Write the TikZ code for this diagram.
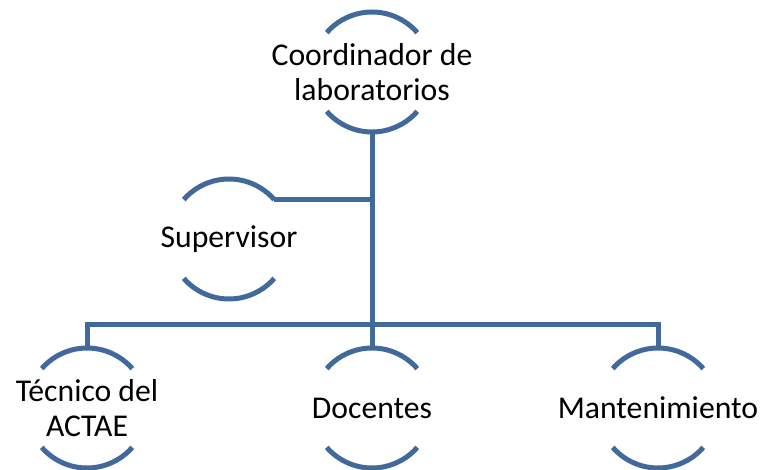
\documentclass[tikz,border=0pt]{standalone}
\usepackage{fontspec}
\setmainfont{Carlito}
\usetikzlibrary{positioning}
\definecolor{orgblue}{RGB}{65,105,155}
\tikzstyle{ring} = [draw=orgblue, line width=5pt]
\tikzstyle{unit} = [circle, minimum size=120pt, inner sep=0pt, outer sep=0pt,
    append after command={\pgfextra{\let\unitnode\tikzlastnode
      \draw[ring] (\unitnode.41) arc[start angle=41, end angle=139, radius=60pt];
      \draw[ring] (\unitnode.221) arc[start angle=221, end angle=319, radius=60pt];}}]
\tikzstyle{every label} = [font=\fontsize{31.7}{34.5}\selectfont, align=center]
\tikzstyle{line} = [draw=orgblue, line width=5pt]

\begin{document}
\begin{tikzpicture}[on grid]
\useasboundingbox (0,0) rectangle (761pt,-470pt);
% Place nodes
\node [unit, label={center:Coordinador de\\laboratorios}] (coordinador) at (372pt,-72pt) {};
\node [unit, below left=167pt and 143pt of coordinador, label=center:Supervisor] (supervisor) {};
\node [unit, below=336pt of coordinador, label=center:Docentes] (docentes) {};
\node [unit, left=285pt of docentes, label={center:Técnico del\\ACTAE}] (tecnico) {};
\node [unit, right=286pt of docentes, label=center:Mantenimiento] (mantenimiento) {};
\coordinate [above=23pt of docentes.north] (split);

% Draw edges
\path [line] (coordinador.south) -- (docentes.north);
\path [line] (supervisor.41) -- (supervisor.41 -| coordinador.south);
\path [line] (tecnico.north) |- (split) -| (mantenimiento.north);
\end{tikzpicture}
\end{document}
